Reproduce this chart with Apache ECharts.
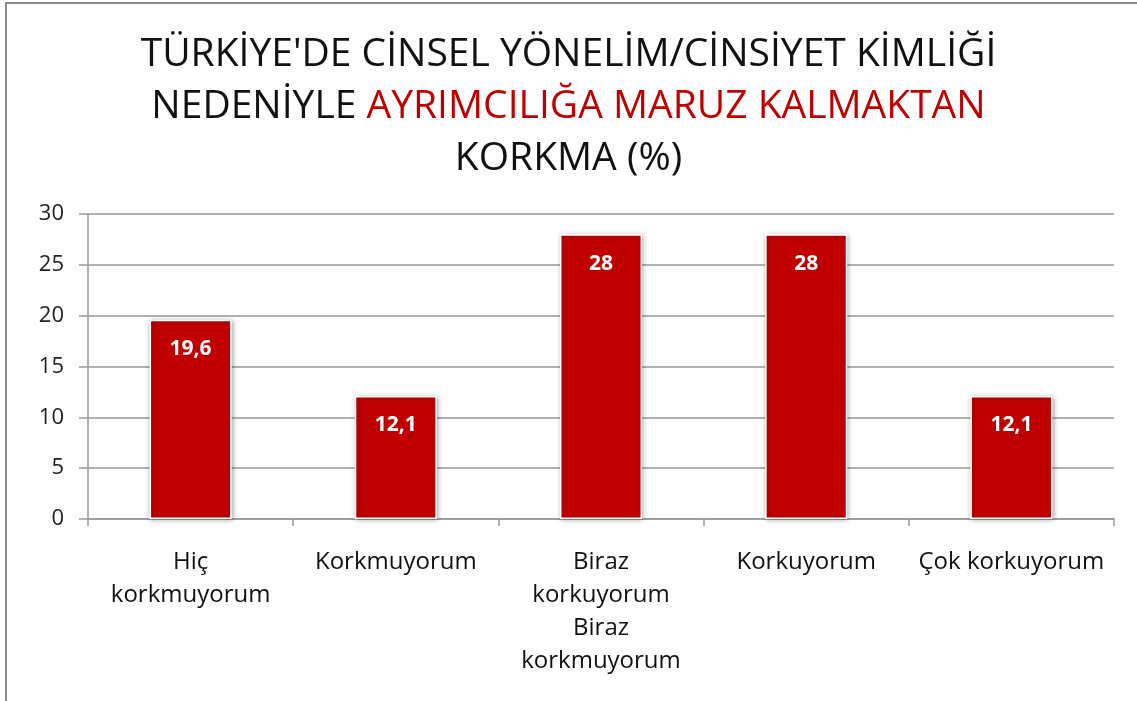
<!DOCTYPE html>
<html>
<head>
<meta charset="utf-8"/>
<title>Korkma</title>
<script src="https://cdn.jsdelivr.net/npm/echarts@6/dist/echarts.min.js"></script>
<style>
html,body{margin:0;padding:0;background:#fff;}
#main{width:1137px;height:701px;}
</style>
</head>
<body>
<div id="main"></div>
<script type="text/javascript">
var categories = ['Hiç\nkorkmuyorum', 'Korkmuyorum', 'Biraz\nkorkuyorum\nBiraz\nkorkmuyorum', 'Korkuyorum', 'Çok korkuyorum'];
var values = [19.6, 12.1, 28, 28, 12.1];
var yTicks = [0, 5, 10, 15, 20, 25, 30];

var fontFam = '"Open Sans", "Noto Sans", sans-serif';
var myChart = echarts.init(document.getElementById('main'));
var option = {
    backgroundColor: '#fff',
    title: {
        text: "TÜRKİYE'DE CİNSEL YÖNELİM/CİNSİYET KİMLİĞİ\nNEDENİYLE {r|AYRIMCILIĞA MARUZ KALMAKTAN}\nKORKMA (%)",
        left: 'center',
        top: 24,
        textStyle: {
            fontFamily: fontFam,
            fontWeight: 'normal',
            fontSize: 39,
            color: '#111',
            lineHeight: 52,
            rich: {
                r: { color: '#c00000', fontSize: 39, fontFamily: fontFam, lineHeight: 52 }
            }
        }
    },
    graphic: [{
        type: 'rect',
        shape: { x: 6, y: 3, width: 1300, height: 900 },
        style: { fill: 'none', stroke: '#8a8a8a', lineWidth: 2 },
        silent: true
    }],
    grid: {
        left: 88,
        right: 23,
        top: 214,
        bottom: 182,
        containLabel: false
    },
    xAxis: {
        type: 'category',
        data: categories,
        axisLine: { lineStyle: { color: '#999', width: 1.5 } },
        axisTick: { show: true, length: 7, alignWithLabel: false, lineStyle: { color: '#999', width: 1.5 } },
        axisLabel: {
            interval: 0,
            margin: 27,
            fontFamily: fontFam,
            fontSize: 24,
            lineHeight: 33,
            color: '#111',
            align: 'center'
        }
    },
    yAxis: {
        type: 'value',
        min: yTicks[0],
        max: yTicks[yTicks.length - 1],
        interval: 5,
        axisLine: { show: true, lineStyle: { color: '#999', width: 1.5 } },
        axisTick: { show: true, length: 9, lineStyle: { color: '#999', width: 1.5 } },
        splitLine: { lineStyle: { color: '#999', width: 1.5 } },
        axisLabel: {
            fontFamily: fontFam,
            fontSize: 22,
            color: '#222',
            margin: 24
        }
    },
    series: [{
        type: 'bar',
        data: values,
        barWidth: '40%',
        itemStyle: {
            color: '#c00000',
            borderColor: '#fff',
            borderWidth: 1.5,
            shadowColor: 'rgba(0,0,0,0.35)',
            shadowBlur: 5,
            shadowOffsetX: 1,
            shadowOffsetY: 1
        },
        label: {
            show: true,
            position: 'insideTop',
            distance: 19,
            color: '#fff',
            fontFamily: fontFam,
            fontWeight: 'bold',
            fontSize: 21,
            formatter: function (p) {
                return String(p.value).replace('.', ',');
            }
        }
    }]
};
myChart.setOption(option);
</script>
</body>
</html>
